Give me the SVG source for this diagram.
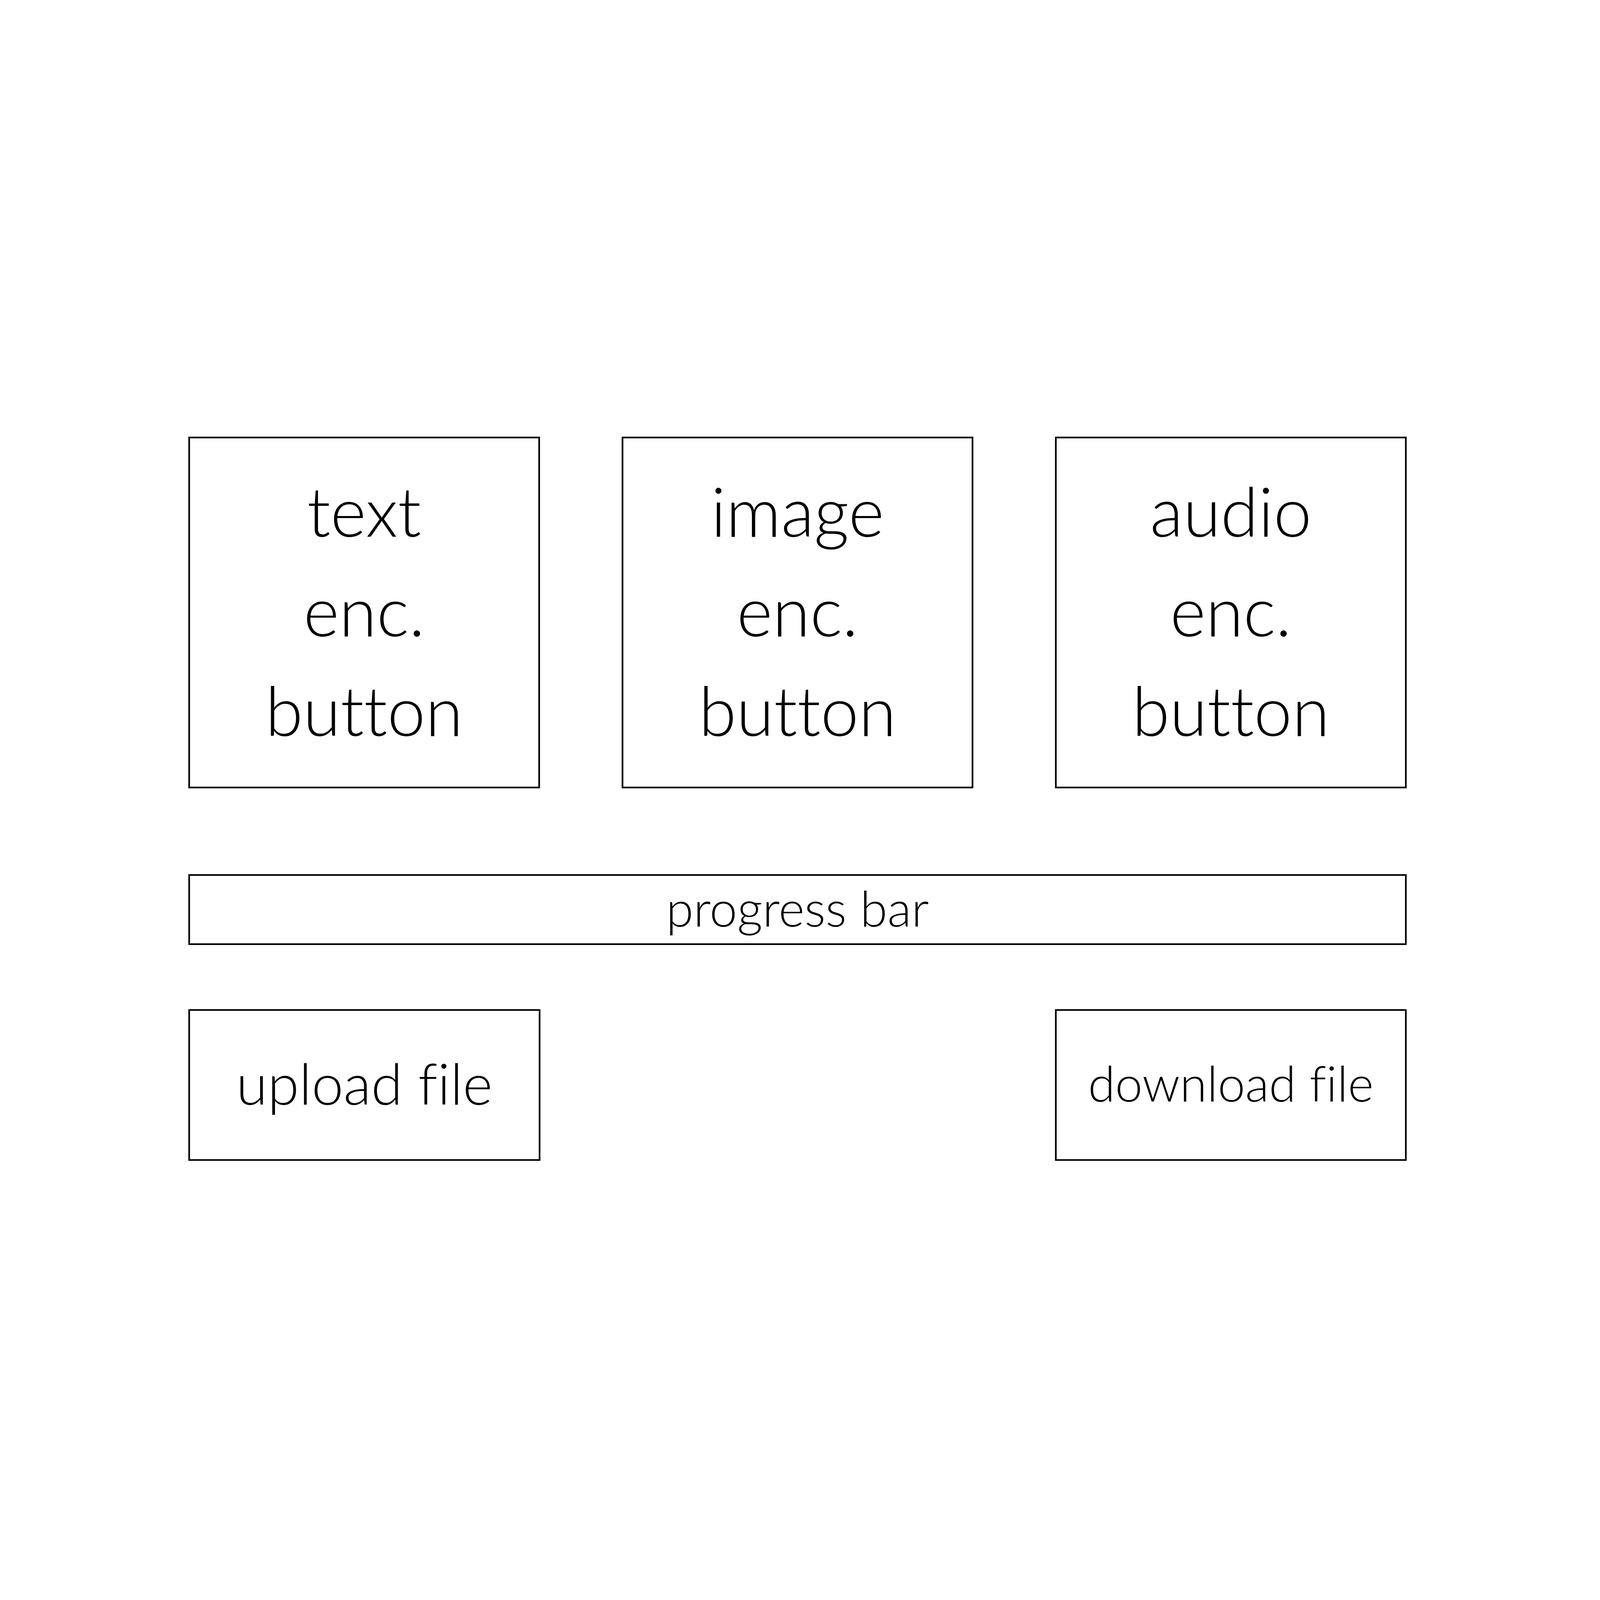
<svg xmlns="http://www.w3.org/2000/svg" width="7680" height="4320" viewBox="0 0 7680 4320">
<style>
svg{width:100vw;height:100vh}
.box{fill:#ffffff;stroke:#000000;stroke-width:8}
.lbl{font-family:Lato,"Liberation Sans",sans-serif;font-weight:300;fill:#000000;text-anchor:middle;font-variant-ligatures:none;font-feature-settings:"liga" 0}
.big{font-size:328px}
.prog{font-size:238px}
.up{font-size:274px}
.down{font-size:236px}
</style>
<rect width="7680" height="4320" fill="#ffffff"/>
<g id="connectors"></g>
<g id="text-enc-button">
<rect class="box" x="908" y="420" width="1680" height="1680"/>
<text class="lbl big" x="1748" y="897">text</text>
<text class="lbl big" x="1748" y="1374">enc.</text>
<text class="lbl big" x="1748" y="1853">button</text>
</g>
<g id="image-enc-button">
<rect class="box" x="2988" y="420" width="1680" height="1680"/>
<text class="lbl big" x="3828" y="897">image</text>
<text class="lbl big" x="3828" y="1374">enc.</text>
<text class="lbl big" x="3828" y="1853">button</text>
</g>
<g id="audio-enc-button">
<rect class="box" x="5068" y="420" width="1680" height="1680"/>
<text class="lbl big" x="5908" y="897">audio</text>
<text class="lbl big" x="5908" y="1374">enc.</text>
<text class="lbl big" x="5908" y="1853">button</text>
</g>
<g id="progress-bar">
<rect class="box" x="908" y="2520" width="5840" height="332"/>
<text class="lbl prog" x="3828" y="2768">progress bar</text>
</g>
<g id="upload-file">
<rect class="box" x="908" y="3168" width="1682" height="720"/>
<text class="lbl up" x="1749" y="3622">upload file</text>
</g>
<g id="download-file">
<rect class="box" x="5068" y="3168" width="1680" height="720"/>
<text class="lbl down" x="5908" y="3608">download file</text>
</g>
</svg>
